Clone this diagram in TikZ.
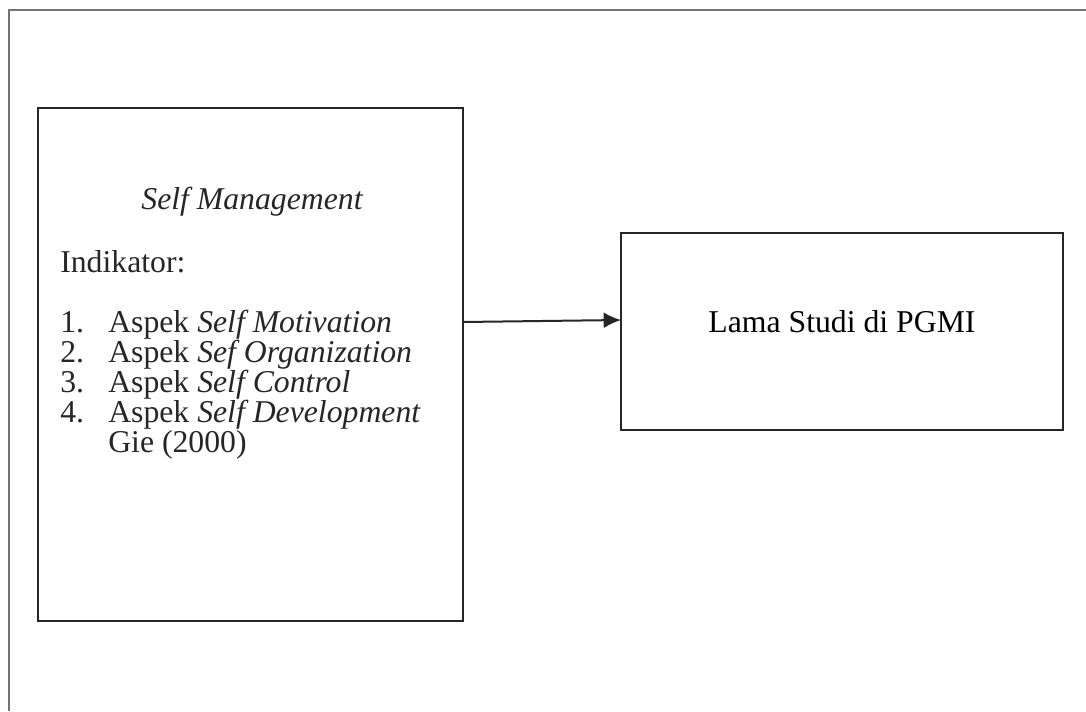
\documentclass[tikz,border=0pt]{standalone}
\usepackage{fontspec}
\setmainfont{Liberation Serif}
\usetikzlibrary{arrows.meta}
\begin{document}
\begin{tikzpicture}[x=0.75pt,y=-0.75pt,
  frameline/.style={draw=black!55, line width=1.6pt},
  boxstyle/.style={draw=black!85, line width=2pt, rectangle, inner sep=0pt, outer sep=0pt},
  txt/.style={inner sep=0pt, anchor=base west, font=\fontsize{23.8}{28}\selectfont, text=black!85},
  arrowline/.style={draw=black!85, line width=1.5pt, -{Latex[length=13pt,width=12pt]}}]
\useasboundingbox (0,0) rectangle (1086,711);
% outer frame (top and left only)
\coordinate (ftl) at (9,10);
\coordinate (ftr) at (1086,10);
\coordinate (fbl) at (9,711);
\draw[frameline] (ftr) -- (ftl) -- (fbl);
% boxes
\node[boxstyle, minimum width=318.75pt, minimum height=384.75pt] (L) at (250.5,364.5) {};
\node[boxstyle, minimum width=331.5pt, minimum height=147.75pt] (R) at (842,331.5) {};
% left text
\node[txt, anchor=base] (t0) at (252,209) {\itshape Self Management};
\node[txt] (t1) at (60,272) {Indikator:};
\node[txt] (n1) at (60,332) {1.};
\node[txt] (a1) at (108,332) {Aspek \textit{Self Motivation}};
\node[txt] (n2) at (60,362) {2.};
\node[txt] (a2) at (108,362) {Aspek \textit{Sef Organization}};
\node[txt] (n3) at (60,392) {3.};
\node[txt] (a3) at (108,392) {Aspek \textit{Self Control}};
\node[txt] (n4) at (60,422) {4.};
\node[txt] (a4) at (108,422) {Aspek \textit{Self Development}};
\node[txt] (g) at (108,452) {Gie (2000)};
% right text
\node[txt, anchor=base, text=black] (rt) at (842,332) {Lama Studi di PGMI};
% arrow
\draw[arrowline] (L.east |- 0,322) -- (R.west |- 0,320);
\end{tikzpicture}
\end{document}
